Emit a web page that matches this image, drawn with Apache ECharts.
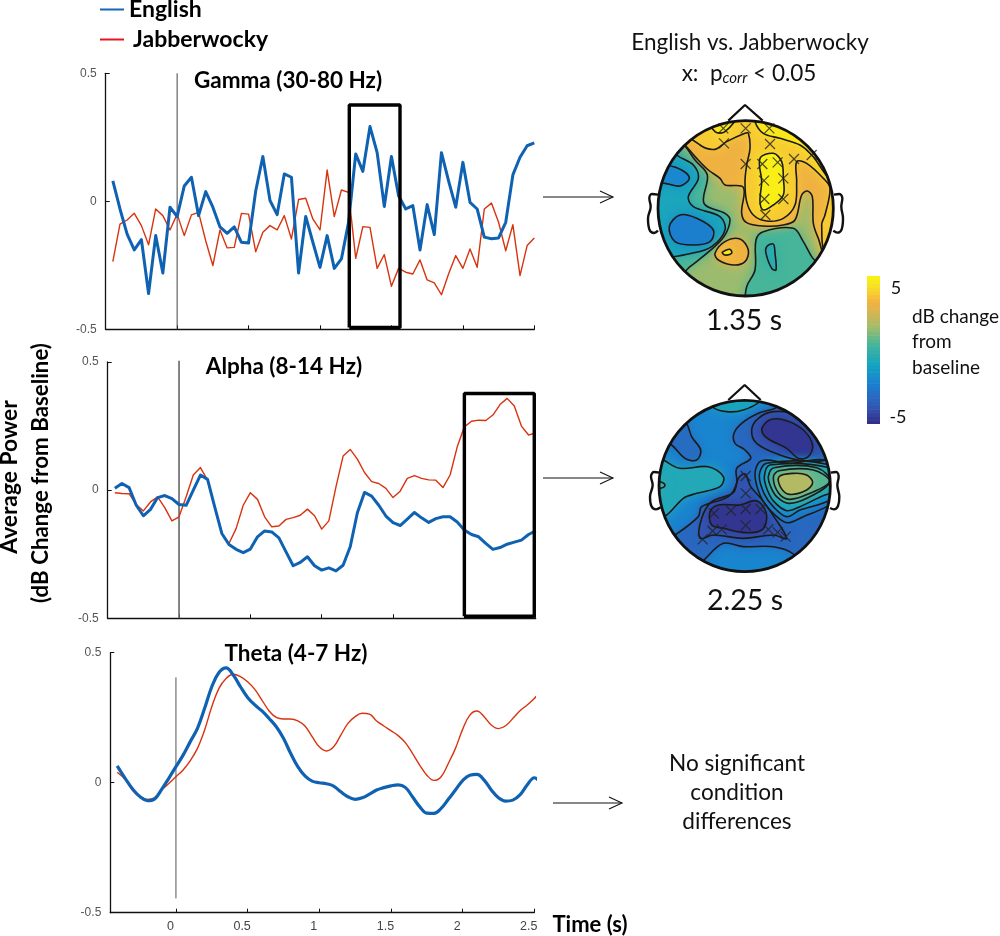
<!DOCTYPE html>
<html><head><meta charset="utf-8">
<style>html,body{margin:0;padding:0;background:#fff}#c{width:1000px;height:936px}</style>
<script src="https://cdn.jsdelivr.net/npm/echarts@6/dist/echarts.min.js"></script>
</head><body><div id="c"></div>
<script>
const timesFull=[-0.45,-0.4,-0.35,-0.3,-0.25,-0.2,-0.15,-0.1,-0.05,0,0.05,0.1,0.15,0.2,0.25,0.3,0.35,0.4,0.45,0.5,0.55,0.6,0.65,0.7,0.75,0.8,0.85,0.9,0.95,1,1.05,1.1,1.15,1.2,1.25,1.3,1.35,1.4,1.45,1.5,1.55,1.6,1.65,1.7,1.75,1.8,1.85,1.9,1.95,2,2.05,2.1,2.15,2.2,2.25,2.3,2.35,2.4,2.45,2.5];
const timesTheta=[-0.41,-0.35,-0.3,-0.25,-0.2,-0.15,-0.1,-0.05,0,0.05,0.1,0.15,0.2,0.25,0.3,0.35,0.4,0.45,0.5,0.55,0.6,0.65,0.7,0.75,0.8,0.85,0.9,0.95,1,1.05,1.1,1.15,1.2,1.25,1.3,1.35,1.4,1.45,1.5,1.55,1.6,1.65,1.7,1.75,1.8,1.85,1.9,1.95,2,2.05,2.1,2.15,2.2,2.25,2.3,2.35,2.4,2.45,2.5,2.555];
const gammaEnglish=[.08,-.03,-.128,-.19,-.15,-.36,-.134,-.28,-.023,-.06,.06,.094,-.056,.038,-.023,-.1,-.125,-.1,-.16,-.163,.04,.175,.003,-.052,.107,.094,-.28,-.059,-.16,-.258,-.134,-.262,-.225,-.082,.185,.117,.292,.19,-.02,.175,.022,-.03,-.017,-.19,-.013,-.13,.19,.08,-.023,.152,-.004,-.03,-.14,-.146,-.143,-.082,.103,.172,.217,.228];
const gammaJabber=[-.236,-.089,-.073,-.047,-.095,-.17,-.03,-.056,-.112,-.05,-.134,-.053,-.043,-.154,-.251,-.112,-.182,-.18,-.047,-.05,-.197,-.121,-.095,-.112,-.056,-.147,.007,.012,-.069,-.112,.122,-.06,.044,.035,-.223,-.099,-.102,-.262,-.208,-.332,-.262,-.277,-.284,-.229,-.307,-.319,-.365,-.284,-.212,-.262,-.186,-.258,-.03,-.007,-.082,-.193,-.091,-.29,-.173,-.143];
const alphaEnglish=[.007,.026,.010,-.059,-.100,-.075,-.029,-.021,-.033,-.056,-.059,0,.059,.042,-.065,-.169,-.212,-.231,-.244,-.230,-.182,-.159,-.163,-.186,-.241,-.295,-.282,-.260,-.295,-.312,-.303,-.315,-.293,-.221,-.088,-.009,-.023,-.059,-.101,-.127,-.138,-.113,-.087,-.108,-.126,-.111,-.104,-.104,-.124,-.156,-.173,-.182,-.208,-.231,-.224,-.211,-.203,-.195,-.173,-.159];
const alphaJabber=[-.010,-.013,-.014,-.056,-.081,-.046,-.026,-.068,-.120,-.104,-.026,.059,.088,.039,-.065,-.169,-.208,-.150,-.059,-.010,-.036,-.104,-.143,-.140,-.114,-.107,-.098,-.074,-.100,-.152,-.120,.013,.133,.159,.121,.069,.033,.026,.007,-.029,-.004,.046,.057,.046,.040,.039,.010,.059,.169,.247,.269,.273,.272,.293,.334,.358,.328,.250,.215,.224];
const thetaEnglish=[.065,.013,-.026,-.054,-.069,-.063,-.026,.017,.062,.106,.158,.209,.286,.369,.424,.442,.414,.369,.328,.299,.276,.247,.215,.171,.113,.062,.026,.006,0,-.004,-.013,-.035,-.054,-.064,-.058,-.044,-.028,-.019,-.012,-.008,-.018,-.054,-.092,-.117,-.118,-.099,-.064,-.028,.008,.029,.032,.010,-.028,-.058,-.071,-.067,-.047,-.009,.019,-.012];
const thetaJabber=[.040,.010,-.031,-.054,-.064,-.058,-.028,-.003,.023,.049,.085,.132,.203,.292,.363,.401,.417,.408,.388,.359,.318,.276,.251,.245,.245,.238,.218,.177,.138,.122,.138,.183,.228,.254,.267,.264,.237,.218,.200,.181,.154,.113,.068,.029,.009,.023,.074,.132,.205,.260,.276,.254,.222,.208,.219,.247,.277,.299,.324,.360];
const yTicks=[-0.5,0,0.5];
const xTickValues=[0,0.5,1,1.5,2,2.5];
const gammaOnset=[[0,-0.5],[0,0.5]];
const alphaOnset=[[0,-0.5],[0,0.505]];
const thetaOnset=[[0,-0.445],[0,0.405]];
const gammaWindow=[[1.205,-0.493],[1.205,0.376],[1.56,0.376],[1.56,-0.493],[1.205,-0.493]];
const alphaWindow=[[2,-0.492],[2,0.377],[2.49,0.377],[2.49,-0.492],[2,-0.492]];

/* topographic maps: contour regions, [level in dB, outline] */
const head1Center=[347,355], head1Radius=263;
const head1Base=1.5;
const head1Regions=[
 [0.5,[[165,168],[195,210],[232,255],[222,340],[285,370],[300,390],[282,440],[240,482],[180,530],[130,570],[40,470],[40,250],[120,120]]],
 [-0.8,[[140,195],[190,225],[205,265],[175,320],[190,350],[270,380],[285,420],[245,470],[185,490],[105,500],[40,470],[40,250],[100,150]]],
 [-2,[[110,225],[155,240],[178,265],[150,288],[105,280],[60,280],[60,220]]],
 [-2.3,[[118,410],[150,375],[200,385],[250,420],[240,455],[190,465],[135,455]]],
 [0.4,[[345,640],[350,590],[375,540],[378,450],[400,425],[490,415],[520,455],[545,500],[590,560],[500,660],[350,660]]],
 [-0.4,[[410,470],[430,462],[435,490],[438,540],[425,535],[408,490]]],
 [3.2,[[255,490],[285,455],[330,447],[355,480],[345,515],[310,525],[265,510]]],
 [4.6,[[277,487],[300,478],[305,490],[285,495]]],
 [3.2,[[165,165],[200,205],[235,240],[270,265],[285,285],[340,292],[335,370],[350,398],[400,408],[460,405],[495,390],[515,315],[532,303],[547,320],[550,400],[565,445],[590,500],[680,470],[680,250],[560,80],[347,40],[180,60],[120,120]]],
 [3.8,[[150,105],[210,165],[255,178],[290,155],[345,130],[355,130],[360,175],[350,225],[345,275],[350,335],[370,375],[410,393],[460,385],[495,345],[500,275],[500,215],[530,220],[580,265],[600,295],[585,375],[575,405],[590,490],[680,460],[680,250],[560,60],[347,30],[200,50]]],
 [4.6,[[375,60],[375,95],[400,130],[450,145],[510,165],[545,195],[610,270],[660,200],[560,60]]],
 [4.6,[[230,75],[255,125],[285,125],[320,75]]],
 [4.8,[[390,205],[430,190],[455,215],[460,265],[460,315],[430,345],[400,360],[390,335],[395,275]]]
];
const head1CrossX=[280,347,418,282,420,347,492,545,397,443,402,460,403,460,406];
const head1CrossY=[115,115,115,160,162,222,207,195,222,217,272,265,327,327,375];
const head1Outline=[[295,92],[345,45],[398,92]];
const head1EarL=[[84,314],[66,312],[58,325],[62,350],[54,385],[58,418],[72,429],[84,422]];
const head1EarR=[[612,314],[628,312],[637,325],[634,350],[639,385],[635,418],[622,428],[610,422]];

const head2Center=[344,348], head2Radius=257;
const head2Base=-2.1;
const head2Regions=[
 [-3.2,[[135,495],[205,440],[215,410],[295,380],[320,340],[320,295],[362,265],[345,240],[315,220],[312,190],[335,160],[385,130],[440,112],[480,70],[660,200],[660,500],[530,610],[490,552],[430,530],[340,530],[280,520],[222,570],[170,620],[70,530]]],
 [-0.9,[[248,110],[290,125],[340,120],[392,93],[420,50],[230,50]]],
 [-3,[[170,160],[185,200],[212,240],[200,270],[165,265],[125,225],[80,200],[130,110]]],
 [-0.6,[[100,270],[150,295],[235,290],[280,320],[270,350],[200,370],[160,385],[110,435],[40,470],[40,240]]],
 [0.1,[[60,335],[90,335],[105,345],[92,355],[60,360]]],
 [-3.9,[[365,180],[385,145],[430,125],[500,135],[560,190],[590,265],[520,272],[450,255],[380,220]]],
 [-4.7,[[398,170],[425,148],[470,152],[520,180],[548,225],[535,260],[505,265],[470,235],[420,210],[398,190]]],
 [-3.9,[[210,505],[215,445],[245,395],[310,368],[325,325],[345,312],[362,350],[395,388],[425,430],[470,505],[430,495],[340,505],[250,495]]],
 [-4.7,[[240,425],[265,405],[330,405],[375,392],[400,410],[410,445],[395,480],[345,488],[280,475],[245,465]]],
 [-2.9,[[375,310],[395,272],[480,280],[590,272],[680,350],[590,410],[520,440],[470,458],[420,420],[390,375]]],
 [-2.1,[[388,315],[410,280],[590,283],[680,345],[590,395],[510,420],[470,440],[430,410],[402,370]]],
 [-1,[[403,320],[420,285],[592,292],[680,345],[585,375],[510,410],[470,422],[432,395],[412,360]]],
 [-0.2,[[415,320],[432,293],[560,293],[600,335],[530,385],[475,400],[440,380],[422,350]]],
 [0.6,[[430,322],[447,302],[550,300],[598,335],[535,372],[478,388],[445,368]]],
 [1.9,[[447,320],[490,310],[530,315],[548,337],[530,360],[478,373],[452,352]]]
];
const head2CrossX=[347,347,252,303,347,392,347,275,248,218,415,443,467];
const head2CrossY=[318,370,430,422,417,417,466,478,483,508,478,487,500];
const head2Outline=[[295,90],[344,45],[392,90]];
const head2EarL=[[90,308],[72,306],[63,320],[68,345],[60,380],[64,408],[78,418],[92,412]];
const head2EarR=[[602,308],[618,306],[626,320],[622,345],[628,380],[624,408],[612,418],[600,414]];

const colorbarLevels=[-5,-4.75,-4.5,-4.25,-4,-3.75,-3.5,-3.25,-3,-2.75,-2.5,-2.25,-2,-1.75,-1.5,-1.25,-1,-0.75,-0.5,-0.25,0,0.25,0.5,0.75,1,1.25,1.5,1.75,2,2.25,2.5,2.75,3,3.25,3.5,3.75,4,4.25,4.5,4.75];

const FONT='Lato';
const BLUE='#0f62b2', RED='#d8330f';
const stops=[[-5,[50,43,133]],[-3.8,[50,88,180]],[-2.2,[26,130,208]],[-1,[20,163,194]],[0.4,[70,181,154]],[1.6,[163,189,107]],[2.5,[212,181,85]],[3.3,[243,178,63]],[4,[248,211,47]],[5,[249,245,15]]];
function parula(v){
  for(let i=1;i<stops.length;i++){ if(v<=stops[i][0]){
    const a=stops[i-1],b=stops[i],t=Math.max(0,(v-a[0])/(b[0]-a[0]));
    return 'rgb('+a[1].map((c,k)=>Math.round(c+(b[1][k]-c)*t)).join(',')+')';
  }}
  return 'rgb(249,245,15)';
}
function panelAxes(idx,labels,min){
  return {
    x:{type:'value',gridIndex:idx,min:min,max:2.5,
       axisLine:{onZero:false,lineStyle:{color:'#111',width:1.3}},
       splitLine:{show:false},
       axisTick:{inside:true,length:4,customValues:xTickValues,lineStyle:{color:'#111',width:1}},
       axisLabel:labels?{customValues:xTickValues,color:'#444',fontSize:12.5,fontFamily:'Liberation Sans',margin:7,padding:[0,11,0,0],formatter:v=>String(v)}:{show:false}},
    y:{type:'value',gridIndex:idx,min:-0.5,max:0.5,interval:0.5,
       axisLine:{show:true,onZero:false,lineStyle:{color:'#111',width:1.3}},
       splitLine:{show:false},
       axisTick:{inside:true,length:4,lineStyle:{color:'#111',width:1}},
       axisLabel:{color:'#555',fontSize:12,fontFamily:'Liberation Sans',margin:9,formatter:v=>yTicks.includes(v)?String(v):''}}
  };
}
const p=[panelAxes(0,false,-0.5),panelAxes(1,false,-0.5),panelAxes(2,true,-0.458)];
function hid(idx,min,max,inv){return {type:'value',gridIndex:idx,min,max,inverse:!!inv,show:false};}
const xAxes=[p[0].x,p[1].x,p[2].x,hid(3,0,690),hid(4,0,690),hid(5,0,1)];
const yAxes=[p[0].y,p[1].y,p[2].y,hid(3,0,660,true),hid(4,0,660,true),hid(5,-5,5)];
function lineS(name,idx,t,v,color,w,smooth){
  return {name,type:'line',xAxisIndex:idx,yAxisIndex:idx,data:t.map((x,i)=>[x,v[i]]),showSymbol:false,symbol:'none',smooth:smooth||false,clip:false,
          color:color,lineStyle:{color,width:w,join:'round'},z:w>2?4:3,animation:false};
}
function plain(name,idx,pts,color,w,z,smooth){
  return {name,type:'line',xAxisIndex:idx,yAxisIndex:idx,data:pts,showSymbol:false,symbol:'none',clip:false,smooth:smooth||false,
          lineStyle:{color,width:w},z:z||5,silent:true,animation:false};
}
function regionsS(idx,regions,c,r,base,mode){
  const items=[[0]].concat(regions.map((_,i)=>[i+1]));
  return {type:'custom',xAxisIndex:idx,yAxisIndex:idx,data:items,silent:true,clip:false,animation:false,z:mode==='fill'?6:7,
    renderItem(params,api){
      const i=params.dataIndex;
      const cc=api.coord(c), rr=Math.abs(api.size([r,0])[0]);
      const clip={type:'circle',shape:{cx:cc[0],cy:cc[1],r:rr}};
      if(i===0){
        if(mode!=='fill') return {type:'group',children:[]};
        return {type:'circle',shape:{cx:cc[0],cy:cc[1],r:rr},style:{fill:parula(base)}};
      }
      const reg=regions[i-1], pts=reg[1].map(q=>api.coord(q));
      const style=mode==='fill'
        ?{fill:parula(reg[0]),shadowBlur:12,shadowColor:parula(reg[0])}
        :{fill:'none',stroke:'#1b1b1b',lineWidth:1.6};
      return {type:'group',clipPath:clip,children:[{type:'polygon',shape:{points:pts,smooth:0.35},style}]};
    }};
}
function circleS(idx,c,r){
  return {type:'custom',xAxisIndex:idx,yAxisIndex:idx,data:[[0]],silent:true,clip:false,animation:false,z:9,
    renderItem(params,api){
      const cc=api.coord(c), rr=Math.abs(api.size([r,0])[0]);
      return {type:'circle',shape:{cx:cc[0],cy:cc[1],r:rr},style:{fill:'none',stroke:'#111',lineWidth:2.8}};
    }};
}
function crossS(idx,xs,ys){
  return {type:'scatter',xAxisIndex:idx,yAxisIndex:idx,data:xs.map((x,i)=>[x,ys[i]]),symbol:'path://M0 0L10 10M10 0L0 10',symbolSize:10,
    itemStyle:{color:'none',borderColor:'#222',borderWidth:1.2},silent:true,z:8,animation:false};
}
const series=[
 lineS('Jabberwocky',0,timesFull,gammaJabber,RED,1.4),
 lineS('English',0,timesFull,gammaEnglish,BLUE,3),
 lineS('Jabberwocky',1,timesFull,alphaJabber,RED,1.4),
 lineS('English',1,timesFull,alphaEnglish,BLUE,3),
 lineS('Jabberwocky',2,timesTheta,thetaJabber,RED,1.4,0.4),
 lineS('English',2,timesTheta,thetaEnglish,BLUE,3.2,0.4),
 plain('onset',0,gammaOnset,'#444',1,2),
 plain('onset',1,alphaOnset,'#666',1.6,2),
 plain('onset',2,thetaOnset,'#555',1,2),
 plain('window',0,gammaWindow,'#000',3.4,5),
 plain('window',1,alphaWindow,'#000',3.4,5),
 regionsS(3,head1Regions,head1Center,head1Radius,head1Base,'fill'),
 regionsS(3,head1Regions,head1Center,head1Radius,head1Base,'line'),
 regionsS(4,head2Regions,head2Center,head2Radius,head2Base,'fill'),
 regionsS(4,head2Regions,head2Center,head2Radius,head2Base,'line'),
 circleS(3,head1Center,head1Radius),
 circleS(4,head2Center,head2Radius),
 crossS(3,head1CrossX,head1CrossY),
 crossS(4,head2CrossX,head2CrossY),
 plain('nose',3,head1Outline,'#111',2.2,9),
 plain('ear',3,head1EarL,'#111',2.4,9,0.4),
 plain('ear',3,head1EarR,'#111',2.4,9,0.4),
 plain('nose',4,head2Outline,'#111',2.2,9),
 plain('ear',4,head2EarL,'#111',2.4,9,0.4),
 plain('ear',4,head2EarR,'#111',2.4,9,0.4),
 {type:'custom',xAxisIndex:5,yAxisIndex:5,data:colorbarLevels.map(v=>[v]),silent:true,clip:true,animation:false,
  renderItem(params,api){
    const v=colorbarLevels[params.dataIndex];
    const a=api.coord([0,v+0.25]), b=api.coord([1,v]);
    return {type:'rect',shape:{x:a[0],y:a[1],width:b[0]-a[0],height:b[1]-a[1]+0.6},style:{fill:parula(v+0.125)}};
  }}
];
function arrow(x1,x2,y){
  return [
   {type:'line',shape:{x1,y1:y,x2,y2:y},style:{stroke:'#111',lineWidth:1.1}},
   {type:'polyline',shape:{points:[[x2-13,y-6],[x2,y],[x2-13,y+6]]},style:{stroke:'#111',lineWidth:1.1,fill:'none'}}
  ];
}
function txt(text,x,y,size,opt){
  return Object.assign({type:'text',x,y,style:Object.assign({text,fontFamily:FONT,fontSize:size,fill:'#111',align:'center',verticalAlign:'middle'},(opt||{}).style||{})},(opt&&opt.el)||{});
}
const bold={style:{fontWeight:'bold',fill:'#000'}};
const graphic=[
 txt('Gamma (30-80 Hz)',288,81,22.5,bold),
 txt('Alpha (8-14 Hz)',284,367,22.5,bold),
 txt('Theta (4-7 Hz)',296,654,22.5,bold),
 txt('Average Power',10,477,22.8,{style:{fontWeight:'bold',fill:'#000'},el:{rotation:Math.PI/2}}),
 txt('(dB Change from Baseline)',41,473,22.3,{style:{fontWeight:'bold',fill:'#000'},el:{rotation:Math.PI/2}}),
 txt('Time (s)',590,925,22,bold),
 txt('English vs. Jabberwocky',750,43,22.5),
 {type:'text',x:749,y:74,style:{rich:{a:{fontFamily:FONT,fontSize:22.5,fill:'#111'},b:{fontFamily:FONT,fontSize:15,fontStyle:'italic',fill:'#111',padding:[8,0,0,0]}},text:'{a|x:  p}{b|corr}{a| < 0.05}',align:'center',verticalAlign:'middle'}},
 txt('1.35 s',744,321,28.5),
 txt('2.25 s',745,601,28.5),
 txt('No significant',737,764,22.6),
 txt('condition',737,793,22.6),
 txt('differences',737,822,22.6),
 txt('5',896,288,18,{style:{align:'center'}}),
 txt('-5',898,417,18,{style:{align:'center'}}),
 txt('dB change',912,317,19,{style:{align:'left'}}),
 txt('from',912,342,19,{style:{align:'left'}}),
 txt('baseline',912,368,19,{style:{align:'left'}}),
 ...arrow(543,613,197),...arrow(543,613,478),...arrow(553,622,803)
];
const chart=echarts.init(document.getElementById('c'),null,{renderer:'canvas'});
chart.setOption({
 animation:false,backgroundColor:'#fff',
 legend:[
  {data:[{name:'English',itemStyle:{color:'#1566b7'}}],left:95,top:-7,itemWidth:24,itemHeight:2,icon:'rect',textStyle:{fontFamily:FONT,fontWeight:'bold',fontSize:23,color:'#000'},selectedMode:false},
  {data:[{name:'Jabberwocky',itemStyle:{color:'#e8141c'}}],left:95,top:23,itemWidth:24,itemHeight:2,icon:'rect',textStyle:{fontFamily:FONT,fontWeight:'bold',fontSize:23,color:'#000',padding:[0,0,0,4]},selectedMode:false}
 ],
 grid:[
  {left:105.7,width:428.6,top:73.3,height:256},
  {left:107.7,width:428,top:362,height:256.3},
  {left:110.3,width:424,top:652.7,height:260},
  {left:630,top:90,width:230,height:220},
  {left:630,top:370,width:230,height:220},
  {left:867,top:276,width:13,height:148}
 ],
 xAxis:xAxes,yAxis:yAxes,series,graphic
});
</script></body></html>
